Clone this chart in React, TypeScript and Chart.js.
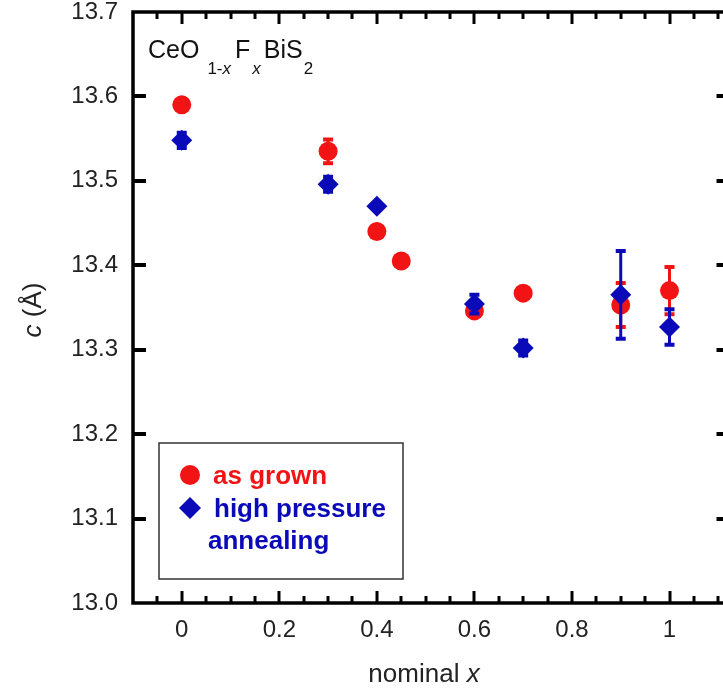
import React, { useEffect, useRef } from 'react';
import { Chart, registerables } from 'chart.js';

Chart.register(...registerables);

// ---- data ----
const xAsGrown = [0, 0.3, 0.4, 0.45, 0.6, 0.7, 0.9, 1.0];
const cAsGrown = [13.590, 13.535, 13.440, 13.405, 13.346, 13.367, 13.353, 13.370];
const errAsGrown = [0, 0.014, 0, 0, 0, 0, 0.026, 0.028];

const xHPA = [0, 0.3, 0.4, 0.6, 0.7, 0.9, 1.0];
const cHPA = [13.548, 13.496, 13.470, 13.354, 13.302, 13.365, 13.327];
const errHPA = [0.009, 0.009, 0, 0.011, 0.009, 0.052, 0.021];

const xTickValues = [0, 0.2, 0.4, 0.6, 0.8, 1.0];
const xTickLabels = ['0', '0.2', '0.4', '0.6', '0.8', '1'];
const yTickValues = [13.0, 13.1, 13.2, 13.3, 13.4, 13.5, 13.6, 13.7];
const yTickLabels = ['13.0', '13.1', '13.2', '13.3', '13.4', '13.5', '13.6', '13.7'];

const seriesNames = ['as grown', 'high pressure annealing'];
const legendLines = [['as grown'], ['high pressure', 'annealing']];

const RED = '#f21414';
const BLUE = '#0a0ab8';
const FONT = '"Liberation Sans", Arial, Helvetica, sans-serif';
const T = 30; // canvas shifted up by this many px

const X_MIN = -0.1;
const X_MAX = 1.123;

const errorBarPlugin = {
  id: 'errorBars',
  beforeDatasetDraw(chart: any, args: any) {
    const ds = chart.data.datasets[args.index];
    const errs: number[] = ds.errors || [];
    const xs = chart.scales.x;
    const ys = chart.scales.y;
    const ctx = chart.ctx;
    ctx.save();
    ctx.strokeStyle = ds.backgroundColor;
    ds.data.forEach((p: any, j: number) => {
      const e = errs[j];
      if (!e) return;
      const px = xs.getPixelForValue(p.x);
      const yt = ys.getPixelForValue(p.y + e);
      const yb = ys.getPixelForValue(p.y - e);
      ctx.lineWidth = 3;
      ctx.beginPath();
      ctx.moveTo(px, yt);
      ctx.lineTo(px, yb);
      ctx.stroke();
      ctx.lineWidth = 4;
      ctx.beginPath();
      ctx.moveTo(px - 5, yt);
      ctx.lineTo(px + 5, yt);
      ctx.moveTo(px - 5, yb);
      ctx.lineTo(px + 5, yb);
      ctx.stroke();
    });
    ctx.restore();
  },
};

function drawRich(ctx: any, parts: { t: string; font: string; dy?: number; gap?: number }[], x: number, y: number) {
  let cx = x;
  for (const p of parts) {
    ctx.font = p.font;
    ctx.fillText(p.t, cx, y + (p.dy || 0));
    cx += ctx.measureText(p.t).width + (p.gap || 0);
  }
  return cx;
}

function richWidth(ctx: any, parts: { t: string; font: string; gap?: number }[]) {
  let w = 0;
  for (const p of parts) {
    ctx.font = p.font;
    w += ctx.measureText(p.t).width + (p.gap || 0);
  }
  return w;
}

const decorPlugin = {
  id: 'decor',
  afterDraw(chart: any) {
    const ctx = chart.ctx;
    const { left, right, top, bottom } = chart.chartArea;
    const xs = chart.scales.x;
    const ys = chart.scales.y;
    ctx.save();

    // frame
    ctx.strokeStyle = '#000';
    ctx.lineWidth = 3.5;
    ctx.strokeRect(left, top, right - left, bottom - top);

    // x ticks (bottom & top), inward
    ctx.lineWidth = 3;
    for (let k = -2; k <= 24; k++) {
      const v = k * 0.05;
      if (v <= X_MIN + 1e-6 || v >= X_MAX - 1e-6) continue;
      const major = k % 4 === 0;
      const len = major ? 12 : 7;
      const px = Math.round(xs.getPixelForValue(v));
      ctx.beginPath();
      ctx.moveTo(px, bottom);
      ctx.lineTo(px, bottom - len);
      ctx.moveTo(px, top);
      ctx.lineTo(px, top + len);
      ctx.stroke();
    }
    // y ticks (left & right), inward
    ctx.lineWidth = 4;
    yTickValues.forEach((v) => {
      const py = Math.round(ys.getPixelForValue(v));
      if (py <= top + 2 || py >= bottom - 2) return;
      ctx.beginPath();
      ctx.moveTo(left, py);
      ctx.lineTo(left + 13, py);
      ctx.moveTo(right, py);
      ctx.lineTo(right - 13, py);
      ctx.stroke();
    });

    // compound label
    ctx.fillStyle = '#111';
    ctx.textBaseline = 'alphabetic';
    ctx.textAlign = 'left';
    const big = `25px ${FONT}`;
    const sub = `17px ${FONT}`;
    const subI = `italic 17px ${FONT}`;
    drawRich(ctx, [
      { t: 'CeO', font: big, gap: 8 },
      { t: '1-', font: sub, dy: 16 },
      { t: 'x', font: subI, dy: 16, gap: 4 },
      { t: 'F', font: big, gap: 2 },
      { t: 'x', font: subI, dy: 16, gap: 3 },
      { t: 'BiS', font: big, gap: 1 },
      { t: '2', font: sub, dy: 16 },
    ], 148, 58 + T);

    // x-axis title
    ctx.fillStyle = '#222';
    const xt = [
      { t: 'nominal ', font: `26px ${FONT}` },
      { t: 'x', font: `italic 26px ${FONT}` },
    ];
    const xw = richWidth(ctx, xt);
    drawRich(ctx, xt, 424 - xw / 2, 682 + T);

    // y-axis title (rotated)
    ctx.save();
    ctx.translate(41, 310 + T);
    ctx.rotate(-Math.PI / 2);
    const yt = [
      { t: 'c', font: `italic 26px ${FONT}` },
      { t: ' (\u00c5)', font: `26px ${FONT}` },
    ];
    const yw = richWidth(ctx, yt);
    drawRich(ctx, yt, -yw / 2, 0);
    ctx.restore();

    // legend box
    ctx.strokeStyle = '#333';
    ctx.lineWidth = 1.5;
    ctx.strokeRect(159, 443 + T, 244, 136);
    // marker 1
    ctx.fillStyle = RED;
    ctx.beginPath();
    ctx.arc(190, 475 + T, 10, 0, Math.PI * 2);
    ctx.fill();
    ctx.font = `bold 26px ${FONT}`;
    ctx.fillText(legendLines[0][0], 213, 484 + T);
    // marker 2
    ctx.fillStyle = BLUE;
    ctx.beginPath();
    ctx.moveTo(190, 497 + T);
    ctx.lineTo(201, 508 + T);
    ctx.lineTo(190, 519 + T);
    ctx.lineTo(179, 508 + T);
    ctx.closePath();
    ctx.fill();
    ctx.fillText(legendLines[1][0], 214, 517 + T);
    ctx.fillText(legendLines[1][1], 208, 549 + T);

    ctx.restore();
  },
};

export default function App() {
  const ref = useRef<HTMLCanvasElement | null>(null);

  useEffect(() => {
    const canvas = ref.current;
    if (!canvas) return;
    const chart = new Chart(canvas, {
      type: 'scatter',
      data: {
        datasets: [
          {
            label: seriesNames[0],
            data: xAsGrown.map((x, i) => ({ x, y: cAsGrown[i] })),
            errors: errAsGrown,
            backgroundColor: RED,
            borderColor: RED,
            borderWidth: 0,
            pointStyle: 'circle',
            pointRadius: 9.5,
            order: 2,
          } as any,
          {
            label: seriesNames[1],
            data: xHPA.map((x, i) => ({ x, y: cHPA[i] })),
            errors: errHPA,
            backgroundColor: BLUE,
            borderColor: BLUE,
            borderWidth: 0,
            pointStyle: 'rectRot',
            pointRadius: 10.5,
            order: 1,
          } as any,
        ],
      },
      options: {
        animation: false,
        responsive: false,
        devicePixelRatio: 1,
        layout: { padding: { top: 12 + T, right: 9, bottom: 0, left: 0 } },
        plugins: {
          legend: { display: false },
          tooltip: { enabled: false },
          title: { display: false },
        },
        scales: {
          x: {
            type: 'linear',
            position: 'bottom',
            min: X_MIN,
            max: X_MAX,
            grid: { display: false, drawTicks: false },
            border: { display: false },
            afterBuildTicks: (s: any) => {
              s.ticks = xTickValues.map((v) => ({ value: v }));
            },
            afterFit: (s: any) => {
              s.height = 90;
            },
            ticks: {
              padding: 13,
              color: '#222',
              font: { family: FONT, size: 24 },
              maxRotation: 0,
              autoSkip: false,
              callback: (_v: any, i: number) => xTickLabels[i],
            },
          },
          y: {
            type: 'linear',
            min: 13.0,
            max: 13.7,
            grid: { display: false, drawTicks: false },
            border: { display: false },
            afterBuildTicks: (s: any) => {
              s.ticks = yTickValues.map((v) => ({ value: v }));
            },
            afterFit: (s: any) => {
              s.width = 133;
            },
            ticks: {
              padding: 15,
              color: '#222',
              font: { family: FONT, size: 24 },
              autoSkip: false,
              callback: (_v: any, i: number) => yTickLabels[i],
            },
          },
        },
      } as any,
      plugins: [errorBarPlugin, decorPlugin],
    });
    return () => chart.destroy();
  }, []);

  return (
    <div
      style={{
        position: 'fixed',
        left: 0,
        top: 0,
        width: 723,
        height: 693,
        overflow: 'hidden',
        background: '#fff',
      }}
    >
      <canvas
        ref={ref}
        width={740}
        height={693 + T}
        style={{ position: 'absolute', left: 0, top: -T, width: 740, height: 693 + T }}
      />
    </div>
  );
}
